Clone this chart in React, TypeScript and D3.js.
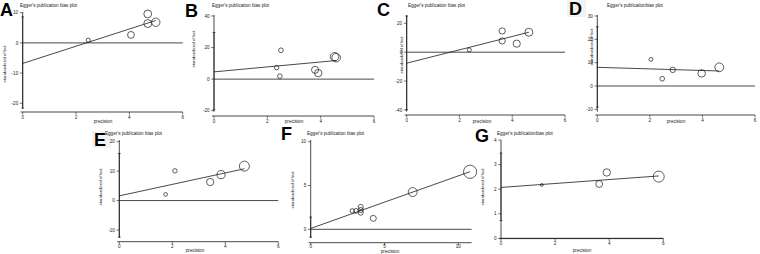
import React from 'react';
import * as d3 from 'd3';

// ---------- data ----------
const panelLetters = ['A', 'B', 'C', 'D', 'E', 'F', 'G'];
const panelTitles = [
  "Egger's publication bias plot",
  "Egger's publication bias plot",
  "Egger's publication bias plot",
  "Egger's publicationbias plot",
  "Egger's publication bias plot",
  "Egger's publication bias plot",
  "Egger's publicationbias plot",
];

const aPrecision = [2.46, 4.06, 4.69, 4.69, 4.99];
const aEffect = [0.9, 2.65, 9.6, 6.4, 6.85];
const bPrecision = [2.35, 2.51, 2.47, 3.79, 3.91, 4.52, 4.58];
const bEffect = [7.3, 18.3, 1.9, 5.9, 3.8, 14.2, 13.6];
const cPrecision = [2.37, 3.62, 3.62, 4.17, 4.63];
const cEffect = [1.6, 14.7, 7.8, 5.9, 13.8];
const dPrecision = [2.04, 2.47, 2.87, 3.97, 4.64];
const dEffect = [11.4, 3.1, 6.9, 5.4, 8.0];
const ePrecision = [1.75, 2.1, 3.43, 3.84, 4.72];
const eEffect = [2.1, 10.1, 6.3, 8.8, 11.7];
const fPrecision = [2.82, 3.07, 3.39, 3.39, 3.39, 4.24, 6.91, 10.8];
const fEffect = [2.1, 2.1, 2.55, 2.2, 1.9, 1.25, 4.25, 6.57];
const gPrecision = [1.51, 3.63, 3.91, 5.83];
const gEffect = [2.17, 2.21, 2.68, 2.51];

const intercepts = [-6.8, 4.6, -7.6, 8.0, 1.6, 0.1, 2.07];
const slopes = [2.85, 1.57, 4.62, -0.34, 1.95, 0.6, 0.08];
const ciUpper = [8.6, 29.5, 25, 25.4, 16, 1.4, 3.47];
const ciLower = [-21.6, -19.4, -39.8, -9.1, -12.4, -0.9, 0.72];

const aYTicks = [10, 0, -10, -20];
const bYTicks = [40, 20, 0, -20];
const cYTicks = [20, 0, -20, -40];
const dYTicks = [30, 20, 10, 0, -10];
const eYTicks = [20, 10, 0, -10];
const fYTicks = [10, 5, 0];
const gYTicks = [4, 3, 2, 1, 0];
const stdXTicks = [0, 2, 4, 6];
const fXTicks = [0, 5, 10];

const precisions = [aPrecision, bPrecision, cPrecision, dPrecision, ePrecision, fPrecision, gPrecision];
const effects = [aEffect, bEffect, cEffect, dEffect, eEffect, fEffect, gEffect];
const yTicksAll = [aYTicks, bYTicks, cYTicks, dYTicks, eYTicks, fYTicks, gYTicks];
const xTicksAll = [stdXTicks, stdXTicks, stdXTicks, stdXTicks, stdXTicks, fXTicks, stdXTicks];

// ---------- layout (pixels) ----------
type Layout = {
  xr: [number, number];
  yr: [number, number];
  xAxisY: number;
  yAxisTop: number;
  yAxisBottom: number;
  xAxisEndVal: number;
  title: [number, number];
  letter: [number, number];
  ylab: [number, number];
  xlab: [number, number];
  xTickDy: number;
  r: [number, number];
};

const layouts: Layout[] = [
  { xr: [22.7, 182.7], yr: [12.7, 103.3], xAxisY: 112, yAxisTop: 12, yAxisBottom: 108.5, xAxisEndVal: 6, title: [20, 7], letter: [0, 16], ylab: [6, 64], xlab: [103, 122.5], xTickDy: 7, r: [0, 4.2] },
  { xr: [214, 374], yr: [16, 110.7], xAxisY: 116, yAxisTop: 15, yAxisBottom: 111.7, xAxisEndVal: 6, title: [212, 7], letter: [185, 17], ylab: [195, 49], xlab: [294, 122.5], xTickDy: 6.5, r: [0, 4.3] },
  { xr: [406.7, 565], yr: [23.3, 110], xAxisY: 115, yAxisTop: 15, yAxisBottom: 111.7, xAxisEndVal: 6, title: [408, 7], letter: [377, 16], ylab: [402.5, 55], xlab: [482, 122.5], xTickDy: 6.5, r: [0, 4] },
  { xr: [597.3, 755], yr: [16, 109.3], xAxisY: 115, yAxisTop: 15, yAxisBottom: 111.7, xAxisEndVal: 6, title: [607, 7], letter: [569, 15], ylab: [592.5, 47], xlab: [676, 122.5], xTickDy: 6.5, r: [0, 4.4] },
  { xr: [119.3, 278.3], yr: [141.7, 230], xAxisY: 241.7, yAxisTop: 140, yAxisBottom: 238, xAxisEndVal: 6, title: [105, 135], letter: [94, 146], ylab: [102, 187], xlab: [195, 251.5], xTickDy: 6, r: [0, 5] },
  { xr: [310.7, 458.3], yr: [141.7, 229.3], xAxisY: 242.7, yAxisTop: 140, yAxisBottom: 238, xAxisEndVal: 10.9, title: [307, 135], letter: [281, 140], ylab: [293.5, 190], xlab: [390, 253.3], xTickDy: 5.6, r: [0.7, 6.6] },
  { xr: [501, 663.3], yr: [140, 238.3], xAxisY: 238.6, yAxisTop: 140, yAxisBottom: 238.3, xAxisEndVal: 6, title: [497, 135], letter: [475, 142], ylab: [483.5, 187], xlab: [582, 251.5], xTickDy: 6.5, r: [0, 5.5] },
];

const FONT = "'Liberation Sans', Arial, Helvetica, sans-serif";
const INK = '#1a1a1a';

function Panel({ i }: { i: number }) {
  const L = layouts[i];
  const xt = xTicksAll[i];
  const yt = yTicksAll[i];
  const prec = precisions[i];
  const eff = effects[i];
  const x = d3.scaleLinear().domain([0, xt[xt.length - 1]]).range(L.xr);
  const y = d3.scaleLinear().domain([yt[0], yt[yt.length - 1]]).range(L.yr);
  const maxP = d3.max(prec) as number;
  const r = d3.scaleLinear().domain([0, maxP]).range(L.r);
  const fit = d3.line<number>().x((p) => x(p)).y((p) => y(intercepts[i] + slopes[i] * p));
  const x0 = x(0);
  return (
    <g>
      {(i === 3 || i === 4) && (
        <rect x={L.letter[0] - 2} y={L.letter[1] - 15} width={19} height={17} fill="#f2f2f2" />
      )}
      <text x={L.letter[0]} y={L.letter[1]} fontFamily={FONT} fontWeight="bold" fontSize={18} fill="#000">
        {panelLetters[i]}
      </text>
      <text x={L.title[0]} y={L.title[1]} fontFamily={FONT} fontSize={4.6} fill={INK}>
        {panelTitles[i]}
      </text>
      {/* y axis */}
      <line x1={x0} x2={x0} y1={L.yAxisTop} y2={L.yAxisBottom} stroke={INK} strokeWidth={0.8} />
      {yt.map((t) => (
        <g key={'y' + t}>
          <line x1={x0 - 2.8} x2={x0} y1={y(t)} y2={y(t)} stroke={INK} strokeWidth={0.6} />
          <text x={x0 - 4.5} y={y(t) + 1.6} textAnchor="end" fontFamily={FONT} fontSize={4.6} fill={INK}>
            {t}
          </text>
        </g>
      ))}
      <text
        transform={`translate(${L.ylab[0]},${L.ylab[1]}) rotate(-90)`}
        textAnchor="middle"
        fontFamily={FONT}
        fontSize={4.4}
        fill={INK}
      >
        standardized effect
      </text>
      {/* x axis */}
      <line x1={x0 - 2} x2={x(L.xAxisEndVal)} y1={L.xAxisY} y2={L.xAxisY} stroke={INK} strokeWidth={0.8} />
      {xt.map((t) => (
        <g key={'x' + t}>
          <line x1={x(t)} x2={x(t)} y1={L.xAxisY} y2={L.xAxisY + 2.5} stroke={INK} strokeWidth={0.6} />
          <text x={x(t)} y={L.xAxisY + L.xTickDy} textAnchor="middle" fontFamily={FONT} fontSize={4.6} fill={INK}>
            {t}
          </text>
        </g>
      ))}
      <text x={L.xlab[0]} y={L.xlab[1]} textAnchor="middle" fontFamily={FONT} fontSize={4.6} fill={INK}>
        precision
      </text>
      {/* zero reference line */}
      <line x1={x0} x2={x(L.xAxisEndVal)} y1={y(0)} y2={y(0)} stroke={INK} strokeWidth={0.8} />
      {/* CI of intercept at precision 0 */}
      <line x1={x0} x2={x0} y1={y(ciUpper[i])} y2={y(ciLower[i])} stroke={INK} strokeWidth={0.8} />
      {[ciUpper[i], ciLower[i]].map((v, k) => (
        <line key={'ci' + k} x1={x0 - 1.4} x2={x0 + 1.4} y1={y(v)} y2={y(v)} stroke={INK} strokeWidth={0.7} />
      ))}
      {/* regression line */}
      <path d={fit([0, maxP]) || ''} fill="none" stroke={INK} strokeWidth={0.8} />
      {/* studies */}
      {prec.map((p, k) => (
        <circle key={'c' + k} cx={x(p)} cy={y(eff[k])} r={r(p)} fill="none" stroke={INK} strokeWidth={0.7} />
      ))}
    </g>
  );
}

export default function App() {
  return (
    <svg
      width={760}
      height={254}
      viewBox="0 0 760 254"
      style={{ position: 'absolute', left: 0, top: 0, background: '#fff' }}
    >
      <rect x={0} y={0} width={760} height={254} fill="#fff" />
      {panelLetters.map((_, i) => (
        <Panel key={i} i={i} />
      ))}
    </svg>
  );
}
